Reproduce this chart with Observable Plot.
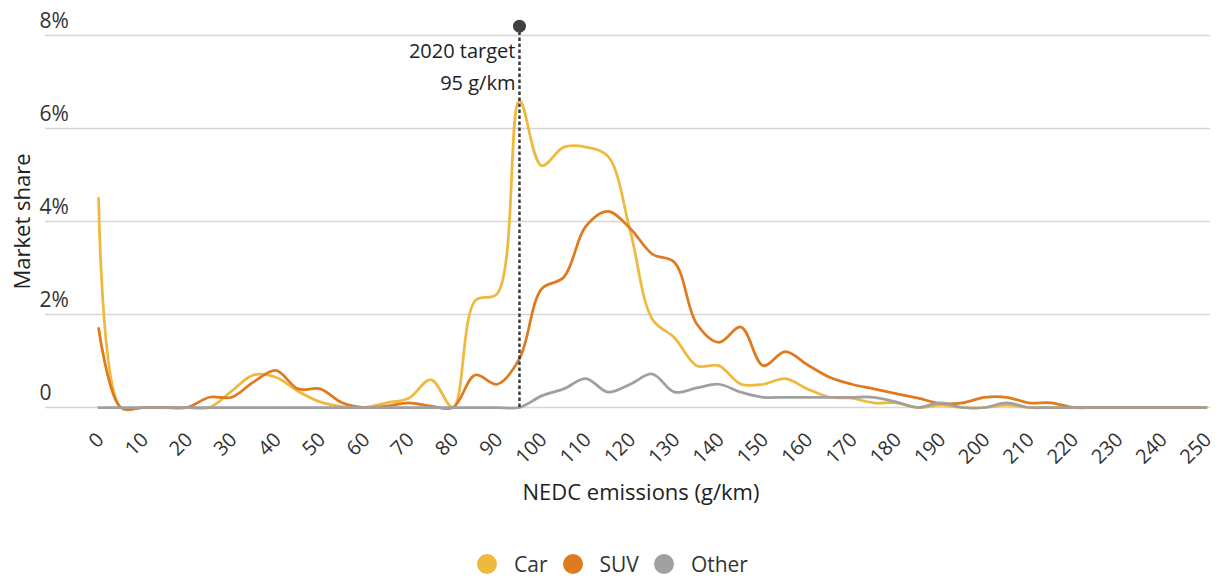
<!DOCTYPE html>
<html><head><meta charset="utf-8">
<script src="https://cdn.jsdelivr.net/npm/d3@7"></script>
<script src="https://cdn.jsdelivr.net/npm/@observablehq/plot@0.6"></script>
<style>
body{margin:0;background:#fff;font-family:"Open Sans",sans-serif;color:#333;}
#legend{display:flex;justify-content:center;align-items:center;padding-top:34px;height:20px;font-size:21px;line-height:20px;}
#legend .item{display:flex;align-items:center;margin:0 7.5px;}
#legend .sw{width:20px;height:20px;border-radius:50%;margin-right:17px;}
</style></head><body><div id="chart"></div><div id="legend"></div>
<script>
const emissions = d3.range(0, 251, 5);
const car = [4.5,0,0,0,0,0,0.35,0.7,0.65,0.35,0.12,0.02,0,0.1,0.2,0.6,0,2.3,2.45,6.6,5.2,5.6,5.6,5.4,3.8,1.9,1.5,0.9,0.9,0.5,0.5,0.62,0.4,0.22,0.2,0.1,0.1,0,0.05,0,0,0.05,0,0,0,0,0,0,0,0,0];
const suv = [1.7,0,0,0,0,0.22,0.22,0.55,0.8,0.4,0.4,0.1,0,0.03,0.1,0.03,0,0.7,0.5,1.05,2.55,2.8,3.9,4.22,3.85,3.3,3.12,1.8,1.4,1.73,0.9,1.2,0.92,0.65,0.5,0.4,0.3,0.2,0.09,0.1,0.22,0.22,0.1,0.1,0,0,0,0,0,0,0];
const other = [0,0,0,0,0,0,0,0,0,0,0,0,0,0,0,0,0,0,0,0,0.25,0.4,0.62,0.33,0.5,0.72,0.33,0.42,0.5,0.33,0.22,0.22,0.22,0.22,0.22,0.22,0.12,0,0.1,0,0,0.1,0,0,0,0,0,0,0,0,0];
const seriesNames = ["Car","SUV","Other"];
const seriesColors = ["#EFB93D","#E07A1E","#A0A0A0"];
const yTicks = [0,2,4,6,8];
const xTicks = d3.range(0, 251, 10);
const targetValue = 95;
const targetTop = 8.2;
const targetLabel = ["2020 target","95 g/km"];
const yTitle = "Market share";
const xTitle = "NEDC emissions (g/km)";

const rows = [];
[car, suv, other].forEach((arr, i) => arr.forEach((v, j) => rows.push({series: seriesNames[i], x: emissions[j], y: v})));

const chart = Plot.plot({
  width: 1225, height: 520,
  marginLeft: 45, marginRight: 15, marginTop: 35, marginBottom: 113,
  style: {fontFamily: "Open Sans", fontSize: "20px", color: "#333", background: "white"},
  x: {domain: [-12, 251]},
  y: {domain: [0, 8]},
  color: {domain: seriesNames, range: seriesColors},
  marks: [
    Plot.ruleY(yTicks, {stroke: "#d6d6d6", strokeWidth: 1.5}),
    Plot.axisY(yTicks, {anchor: "left", tickSize: 0, textAnchor: "start", dx: 3, dy: -14, fontSize: 21, tickFormat: d => d === 0 ? "0" : d + "%", label: null}),
    Plot.axisX(xTicks, {anchor: "bottom", tickSize: 0, tickRotate: -45, fontSize: 20, dy: 17, dx: 2, label: null}),
    Plot.line(rows, {x: "x", y: "y", z: "series", stroke: "series", curve: "catmull-rom", strokeWidth: 2.75}),
    Plot.ruleX([targetValue], {y1: 0, y2: targetTop, stroke: "#3a3a3a", strokeWidth: 2.5, strokeDasharray: "3.5,2.5"}),
    Plot.dot([targetValue], {x: d => d, y: () => targetTop, r: 6.5, fill: "#404040"}),
    Plot.text([targetLabel.join("\n")], {x: () => targetValue, frameAnchor: "top", textAnchor: "end", lineAnchor: "top", lineHeight: 1.6, dx: -4, dy: 0, fontSize: 20, fill: "#222"}),
    Plot.text([yTitle], {frameAnchor: "left", textAnchor: "middle", lineAnchor: "middle", rotate: -90, dx: -23, fontSize: 22, fill: "#222"}),
    Plot.text([xTitle], {frameAnchor: "bottom", textAnchor: "middle", lineAnchor: "middle", dy: 85, dx: 13, fontSize: 22, fill: "#222"})
  ]
});
document.getElementById("chart").appendChild(chart);

const legend = document.getElementById("legend");
seriesNames.forEach((n, i) => {
  const item = document.createElement("div");
  item.className = "item";
  const sw = document.createElement("span");
  sw.className = "sw";
  sw.style.background = seriesColors[i];
  const lab = document.createElement("span");
  lab.textContent = n;
  item.appendChild(sw); item.appendChild(lab);
  legend.appendChild(item);
});
</script></body></html>
